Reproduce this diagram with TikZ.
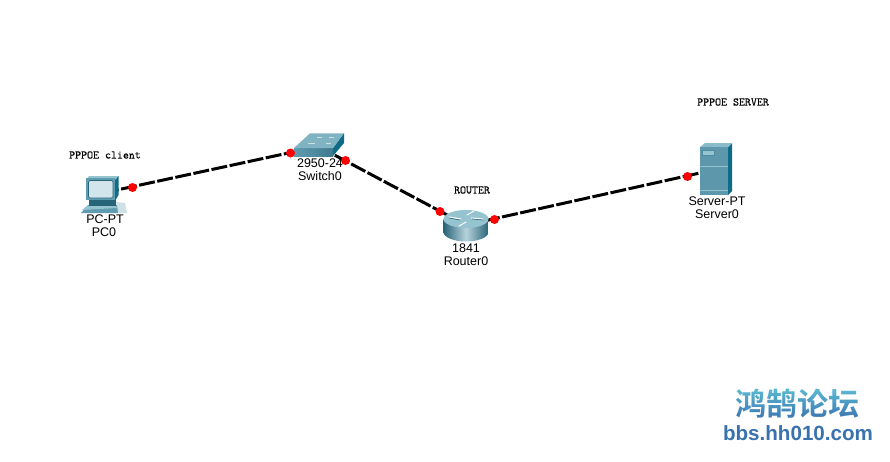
\documentclass[tikz,border=0pt]{standalone}
\usepackage{fontspec}
\setmainfont{Liberation Sans}
\setmonofont[FakeBold=0.35]{Latin Modern Mono}
\newfontfamily\cjkfont{Noto Sans CJK SC Bold}
\usetikzlibrary{shapes.geometric}
\definecolor{tealmid}{RGB}{96,156,176}
\definecolor{teallight}{RGB}{150,195,208}
\definecolor{tealdark}{RGB}{14,108,134}
\definecolor{tealdeep}{RGB}{40,100,120}
\definecolor{screenc}{RGB}{210,228,236}
\definecolor{wmark}{RGB}{58,114,176}
\definecolor{wtop}{rgb}{.17,.51,.42}
\tikzset{
  x=1pt,y=-1pt,
  devbox/.style={inner sep=0pt,minimum width=#1},
  link/.style={line width=3pt,black,dash pattern=on 16pt off 2.5pt},
  portdot/.style={circle,fill=red,draw=none,minimum size=9pt,inner sep=0pt},
  devlabel/.style={font=\fontsize{12.5}{13}\selectfont,text=black,inner sep=0pt,anchor=center},
  note/.style={font=\ttfamily\fontsize{11.6}{12}\selectfont,text=black,inner sep=0pt,anchor=center},
}
\begin{document}
\begin{tikzpicture}
\useasboundingbox (0,0) rectangle (890,461);
\fill[white] (0,0) rectangle (890,461);
% device anchors
\node[devbox=44pt,minimum height=36pt] (pc) at (103,193) {};
\node[devbox=50pt,minimum height=23pt] (sw) at (318.5,146.5) {};
\node[devbox=45pt,minimum height=32pt] (rt) at (466,225) {};
\node[devbox=32pt,minimum height=52pt] (sv) at (715.5,169.5) {};
% connectors
\draw[link] (pc.center) -- (sw.center);
\draw[link] (sw.center) -- (rt.center);
\draw[link] (rt.center) -- (sv.center);
% PC icon
\fill[white!70!tealmid] (116,202) -- (125,203) -- (127,213) -- (118,213) -- cycle;
\fill[tealmid] (81,213) -- (88,205) -- (117,205) -- (118,213) -- cycle;
\fill[tealdeep] (89,200) rectangle (116,206);
\fill[teallight] (82,210) -- (87,206) -- (116,206) -- (117,208) -- cycle;
\fill[tealdark] (114.5,176) -- (118.5,176) -- (118.5,195) -- (115,201) -- cycle;
\fill[teallight] (89,176) -- (118.5,176) -- (115,180) -- (86,180) -- cycle;
\fill[tealmid] (86,178) rectangle (115,200);
\fill[screenc,draw=tealdeep,line width=.6pt,rounded corners=1.5pt] (88.5,180.5) rectangle (113,198);
% switch icon
\fill[tealdark] (333,148) -- (344,133) -- (344,143) -- (333,156) -- cycle;
\shade[left color=tealmid,right color=tealdeep!60!tealmid] (294,148) rectangle (333,156);
\fill[teallight!60!tealmid] (294,148) -- (310,133.3) -- (344,133.3) -- (333,148) -- cycle;
\draw[white!70!tealmid,line width=1pt] (308,143.5) -- (315,143.5) (317,137) -- (322,137) (329,137) -- (334,137) (326,143.5) -- (331,143.5);
% router icon
\shade[left color=tealdeep,right color=tealdeep,middle color=white!55!tealmid] (443.5,219) -- (443.5,232) arc[start angle=180,end angle=0,x radius=22.5,y radius=9.5] -- (488.5,219) -- cycle;
\fill[teallight] (466,219) ellipse[x radius=22.5,y radius=9];
\draw[white,line width=1pt,line cap=round] (449,217) -- (461,219) (466,222) -- (459,226) (483,219) -- (471,218) (467,215) -- (474,211);
\draw[tealdeep,line width=.6pt,line cap=round] (449,218) -- (460,220) (483,220) -- (472,219);
% server icon
\fill[tealdark] (728,147) -- (732,143) -- (732,191) -- (728,195) -- cycle;
\fill[teallight!80!tealmid] (700,147) -- (705,143) -- (732,143) -- (728,147) -- cycle;
\fill[tealmid!92!tealdeep] (700,147) rectangle (728,195);
\fill[teallight,draw=tealmid!70!tealdeep,line width=.5pt] (702,150) rectangle (714.5,155.5);
\draw[teallight,line width=.6pt] (700,166) -- (728,166) (700,190.5) -- (728,190.5);
% port dots
\node[portdot] (p1) at (132.5,187.5) {};
\node[portdot] (p2) at (290.5,153) {};
\node[portdot] (p3) at (345.5,160.5) {};
\node[portdot] (p4) at (440,211.5) {};
\node[portdot] (p5) at (494.5,219.5) {};
\node[portdot] (p6) at (687.5,176.5) {};
% labels
\node[devlabel] (l1) at (105,219) {PC-PT};
\node[devlabel] (l2) at (104,232) {PC0};
\node[devlabel] (l3) at (320,163) {2950-24};
\node[devlabel] (l4) at (320,176) {Switch0};
\node[devlabel] (l5) at (466,248) {1841};
\node[devlabel] (l6) at (466,261) {Router0};
\node[devlabel] (l7) at (717,201) {Server-PT};
\node[devlabel] (l8) at (717,214) {Server0};
\node[note] (n1) at (105,155) {PPPOE client};
\node[note] (n2) at (733,102) {PPPOE SERVER};
\node[note] (n3) at (472,190) {ROUTER};
% watermark
\node[inner sep=0pt,text=wmark,font=\cjkfont\fontsize{31}{31}\selectfont] (wm) at (797.5,404) {鸿鹄论坛};
\node[inner sep=0pt,text=wmark,font=\bfseries\fontsize{20.6}{21}\selectfont] (url) at (798,433) {bbs.hh010.com};
\begin{scope}[blend mode=screen]
\shade[top color=wtop,bottom color=black] (725,388) rectangle (870,420);
\end{scope}
\end{tikzpicture}
\end{document}
